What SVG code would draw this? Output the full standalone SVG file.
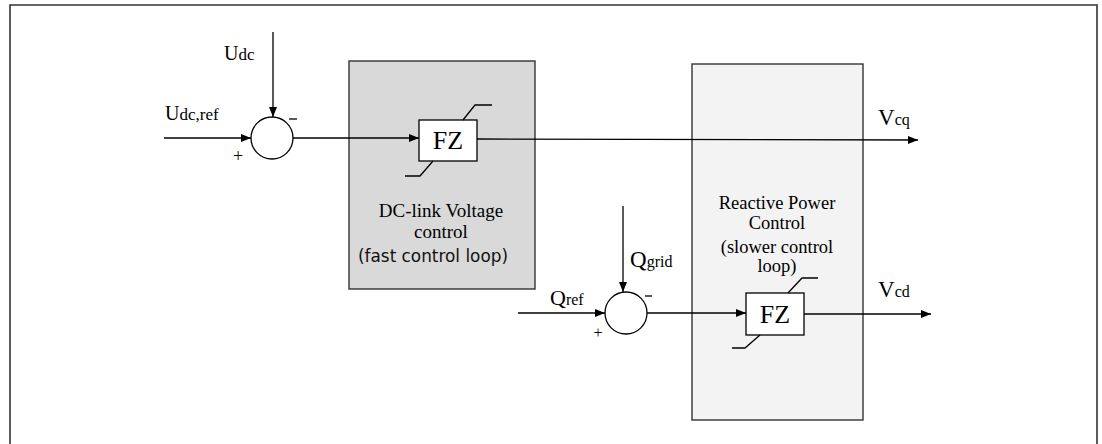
<svg xmlns="http://www.w3.org/2000/svg" width="1102" height="444" viewBox="0 0 1102 444">
<defs>
<marker id="arr" markerWidth="10" markerHeight="8" refX="10" refY="4" orient="auto" markerUnits="userSpaceOnUse">
<path d="M0,0 L10,4 L0,8 Z" fill="#000"/>
</marker>
</defs>
<style>
.ln{fill:none;stroke:#000;stroke-width:1.3}
.frame{fill:none;stroke:#333;stroke-width:1.6}
.sum{fill:#fff;stroke:#000;stroke-width:1.3}
.fz{fill:#fff;stroke:#000;stroke-width:1.3}
.t{font-family:"Liberation Serif","Times New Roman",serif;fill:#000}
.c{font-family:"Comic Sans MS","DejaVu Sans",sans-serif;fill:#111}
.sub{font-size:16px}
</style>
<rect width="1102" height="444" fill="#fff"/>
<path class="frame" d="M10,444 V5 H1097 V444"/>

<g id="block-dc">
<rect x="349" y="61" width="186" height="228" fill="#d9d9d9" stroke="#333" stroke-width="1.4"/>
<text class="t" x="441" y="217" font-size="19" text-anchor="middle">DC-link Voltage</text>
<text class="t" x="441" y="238" font-size="19" text-anchor="middle">control</text>
<text class="c" x="433" y="262" font-size="17" text-anchor="middle" textLength="150" lengthAdjust="spacingAndGlyphs">(fast control loop)</text>
</g>

<g id="block-q">
<rect x="692" y="64" width="171" height="356" fill="#f3f3f3" stroke="#333" stroke-width="1.4"/>
<text class="t" x="777" y="209" font-size="18.5" text-anchor="middle">Reactive Power</text>
<text class="t" x="777" y="229" font-size="18.5" text-anchor="middle">Control</text>
<text class="t" x="777" y="253" font-size="18.5" text-anchor="middle">(slower control</text>
<text class="t" x="777" y="272" font-size="18.5" text-anchor="middle">loop)</text>
</g>

<g id="connectors">
<line class="ln" x1="273" y1="32" x2="273" y2="117" marker-end="url(#arr)"/>
<line class="ln" x1="164" y1="138" x2="251" y2="138" marker-end="url(#arr)"/>
<line class="ln" x1="293" y1="138" x2="419" y2="138" marker-end="url(#arr)"/>
<line class="ln" x1="477" y1="139" x2="918" y2="140" marker-end="url(#arr)"/>
<line class="ln" x1="623" y1="206" x2="623" y2="292" marker-end="url(#arr)"/>
<line class="ln" x1="518" y1="313" x2="605" y2="313" marker-end="url(#arr)"/>
<line class="ln" x1="647" y1="313" x2="746" y2="313" marker-end="url(#arr)"/>
<line class="ln" x1="804" y1="314" x2="931" y2="314" marker-end="url(#arr)"/>
</g>

<g id="sum1">
<circle class="sum" cx="272" cy="138" r="21"/>
<text class="t" x="238" y="162" font-size="18" text-anchor="middle">+</text>
<line class="ln" x1="289" y1="119" x2="297" y2="119"/>
</g>

<g id="sum2">
<circle class="sum" cx="626" cy="313" r="21"/>
<text class="t" x="598" y="338" font-size="16" text-anchor="middle">+</text>
<line class="ln" x1="645" y1="296" x2="652" y2="296"/>
</g>

<g id="fz1">
<rect class="fz" x="419" y="120" width="58" height="41"/>
<text class="t" x="448" y="149" font-size="26" text-anchor="middle">FZ</text>
<path class="ln" d="M463,120 L475,105 H492"/>
<path class="ln" d="M433,161 L420,176 H405"/>
</g>

<g id="fz2">
<rect class="fz" x="746" y="293" width="58" height="42"/>
<text class="t" x="775" y="323" font-size="26" text-anchor="middle">FZ</text>
<path class="ln" d="M788,293 L802,278 H818"/>
<path class="ln" d="M760,335 L745,348 H732"/>
</g>

<g id="labels">
<text class="t" x="224" y="60" font-size="20">U<tspan font-size="17">dc</tspan></text>
<text class="t" x="165" y="120" font-size="20">U<tspan font-size="17">dc,ref</tspan></text>
<text class="t" x="630" y="267" font-size="23">Q<tspan class="sub">grid</tspan></text>
<text class="t" x="550" y="305" font-size="22">Q<tspan class="sub">ref</tspan></text>
<text class="t" x="878" y="125" font-size="23">V<tspan class="sub">cq</tspan></text>
<text class="t" x="878" y="297" font-size="23">V<tspan class="sub">cd</tspan></text>
</g>
</svg>
